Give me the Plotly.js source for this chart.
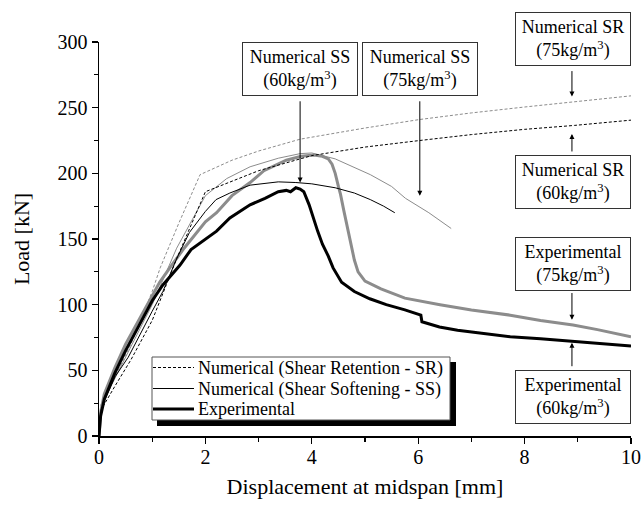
<!DOCTYPE html>
<html>
<head>
<meta charset="utf-8">
<script src="https://cdn.plot.ly/plotly-3.0.1.min.js"></script>
<style>html,body{margin:0;padding:0;background:#fff;}#chart{width:643px;height:511px;}</style>
</head>
<body>
<div id="chart"></div>
<script>
// Numerical Shear Retention, 60 kg/m3
const sr60X = [0, 0.04, 0.3, 0.6, 1.0, 1.46, 2.0, 3.0, 4.0, 5.0, 6.03, 7.0, 8.0, 8.94, 10];
const sr60Y = [0, 20, 38, 58, 88, 135, 186, 202, 213.5, 220, 225, 229.5, 233.5, 236.5, 240.5];
// Numerical Shear Retention, 75 kg/m3
const sr75X = [0, 0.04, 0.3, 0.6, 1.0, 1.15, 1.5, 1.9, 2.5, 3.0, 3.78, 5.0, 6.03, 7.0, 8.0, 8.94, 10];
const sr75Y = [0, 24, 45, 70, 110, 128, 162, 199, 210, 217, 226, 234.5, 241, 246, 250.5, 254.5, 259];
// Numerical Shear Softening, 60 kg/m3
const ss60X = [0, 0.03, 0.1, 0.3, 0.55, 0.8, 1.0, 1.2, 1.46, 1.7, 2.0, 2.2, 2.46, 2.84, 3.37, 3.7, 4.0, 4.44, 4.8, 5.1, 5.35, 5.56];
const ss60Y = [0, 16, 27, 45, 60, 80, 95, 110, 135, 155, 171, 180, 185, 191, 193.5, 193, 192, 189, 185, 180, 175, 170];
// Numerical Shear Softening, 75 kg/m3
const ss75X = [0, 0.04, 0.3, 0.6, 1.0, 1.46, 2.0, 2.4, 2.84, 3.37, 3.78, 4.0, 4.44, 5.1, 5.5, 5.76, 6.2, 6.62];
const ss75Y = [0, 22, 44, 68, 100, 143, 183, 196, 205, 211.5, 215, 215.5, 211, 199, 190, 181, 170, 158];
// Experimental, 60 kg/m3
const exp60X = [0, 0.03, 0.1, 0.3, 0.5, 0.8, 1.0, 1.2, 1.52, 1.73, 2.0, 2.21, 2.46, 2.84, 3.12, 3.37, 3.52, 3.6, 3.7, 3.78, 3.85, 3.95, 4.11, 4.2, 4.31, 4.4, 4.56, 4.8, 5.09, 5.4, 5.75, 6.05, 6.07, 6.4, 6.74, 7.2, 7.73, 8.3, 8.91, 9.5, 10];
const exp60Y = [0, 15, 28, 48, 65, 88, 103, 115, 130, 142, 150, 156, 166, 176, 181, 186, 187, 186, 189, 188, 186, 176, 156, 146, 137, 128, 117, 110, 104.5, 100, 96, 92, 87, 83, 80.5, 78, 75.5, 74, 72, 70, 68.5];
// Experimental, 75 kg/m3
const exp75X = [0, 0.03, 0.1, 0.3, 0.5, 0.8, 1.0, 1.14, 1.33, 1.6, 2.0, 2.21, 2.5, 2.84, 3.1, 3.37, 3.52, 3.8, 4.04, 4.2, 4.31, 4.38, 4.44, 4.5, 4.54, 4.6, 4.67, 4.75, 4.8, 4.87, 4.94, 5.0, 5.3, 5.75, 6.41, 7.0, 7.73, 8.3, 8.91, 9.37, 10];
const exp75Y = [0, 18, 32, 52, 70, 92, 107, 117, 128, 143, 163, 170, 183, 193, 202, 207, 210, 213, 214, 213, 211, 207, 200, 190, 184, 172, 159, 145, 134, 125, 121, 118, 112, 105, 100, 96, 92, 88, 84.5, 81, 75.5];

const legendNames = ["Numerical (Shear Retention - SR)", "Numerical (Shear Softening - SS)", "Experimental"];
const xTicks = [0, 2, 4, 6, 8, 10];
const yTicks = [0, 50, 100, 150, 200, 250, 300];

const FONT = "Liberation Serif, Times New Roman, serif";

const legendStyle = i => [
  {color: "#000000", width: 1, dash: "3px,2px"},
  {color: "#000000", width: 1, dash: "solid"},
  {color: "#000000", width: 3, dash: "solid"}
][i];

const traces = [
  {x: sr75X, y: sr75Y, mode: "lines", line: {color: "#8c8c8c", width: 1, dash: "3px,2px"}, showlegend: false, hoverinfo: "skip"},
  {x: ss75X, y: ss75Y, mode: "lines", line: {color: "#8c8c8c", width: 1}, showlegend: false, hoverinfo: "skip"},
  {x: exp75X, y: exp75Y, mode: "lines", line: {color: "#8c8c8c", width: 3}, showlegend: false, hoverinfo: "skip"},
  {x: sr60X, y: sr60Y, mode: "lines", name: legendNames[0], line: legendStyle(0), showlegend: false},
  {x: ss60X, y: ss60Y, mode: "lines", name: legendNames[1], line: legendStyle(1), showlegend: false},
  {x: exp60X, y: exp60Y, mode: "lines", name: legendNames[2], line: legendStyle(2), showlegend: false}
];

function box(text, x, y, yref) {
  return {text: text, x: x, y: y, xref: "x", yref: yref || "y", xanchor: "center", yanchor: "middle", showarrow: false,
    font: {family: FONT, size: 18, color: "#000"}, bgcolor: "#fff",
    bordercolor: "#333", borderwidth: 1, borderpad: 2, width: 110, height: 48, align: "center"};
}
function arrow(x, yTail, yTip) {
  return {text: "", x: x, y: yTip, ax: x, ay: yTail, xref: "x", yref: "y", axref: "x", ayref: "y",
    showarrow: true, arrowhead: 2, arrowsize: 1, arrowwidth: 1, arrowcolor: "#000", standoff: 0, startstandoff: 0};
}

// plot-area pixel -> paper helpers (plot area: x 99..631, y 42..436)
const px = v => (v - 99) / 532;
const py = v => (436 - v) / 394;

const annotations = [
  box("Numerical SS<br>(60kg/m<sup>3</sup>)", 3.78, 279.5),
  box("Numerical SS<br>(75kg/m<sup>3</sup>)", 6.04, 279.5),
  box("Numerical SR<br>(75kg/m<sup>3</sup>)", 8.91, py(39), "paper"),
  box("Numerical SR<br>(60kg/m<sup>3</sup>)", 8.91, 193.7),
  box("Experimental<br>(75kg/m<sup>3</sup>)", 8.91, 131),
  box("Experimental<br>(60kg/m<sup>3</sup>)", 8.91, 30),
  arrow(3.78, 256, 193),
  arrow(6.03, 256, 183),
  arrow(8.89, 279, 258.5),
  arrow(8.89, 215.5, 230),
  arrow(8.89, 110, 88.5),
  arrow(8.89, 52, 71)
];

const legendRows = [367.5, 388.5, 409];
const shapes = [
  {type: "rect", xref: "paper", yref: "paper", x0: px(157), x1: px(456), y0: py(426), y1: py(362),
   fillcolor: "#000", line: {width: 0}, layer: "above"},
  {type: "rect", xref: "paper", yref: "paper", x0: px(152), x1: px(450), y0: py(420), y1: py(357),
   fillcolor: "#fff", line: {color: "#555", width: 1}, layer: "above"}
];
legendNames.forEach((name, i) => {
  shapes.push({type: "line", xref: "paper", yref: "paper", x0: px(153), x1: px(194), y0: py(legendRows[i]), y1: py(legendRows[i]),
    line: legendStyle(i), layer: "above"});
  annotations.push({text: name, x: px(196), y: py(Math.round(legendRows[i])), xref: "paper", yref: "paper", xanchor: "left", yanchor: "middle",
    showarrow: false, font: {family: FONT, size: 18, color: "#000"}});
});

const layout = {
  width: 643, height: 511,
  margin: {l: 99, r: 12, t: 42, b: 75, pad: 0},
  paper_bgcolor: "#fff", plot_bgcolor: "#fff",
  font: {family: FONT, color: "#000"},
  showlegend: false,
  xaxis: {range: [0, 10], tickvals: xTicks, ticktext: xTicks.map(String), ticks: "outside", ticklen: 6, tickwidth: 1.2,
    tickcolor: "#000", showline: true, linecolor: "#000", linewidth: 1.5, showgrid: false, zeroline: false,
    ticklabelstandoff: -4,
    tickfont: {family: FONT, size: 20}, minor: {dtick: 1, ticks: "outside", ticklen: 4, tickcolor: "#000", tickwidth: 1.2, showgrid: false},
    title: {text: "Displacement at midspan [mm]", font: {family: FONT, size: 22}, standoff: 12}},
  yaxis: {range: [0, 300], tickvals: yTicks, ticktext: yTicks.map(String), ticks: "outside", ticklen: 6, tickwidth: 1.2,
    tickcolor: "#000", showline: true, linecolor: "#000", linewidth: 1.5, showgrid: false, zeroline: false,
    tickfont: {family: FONT, size: 20}, minor: {dtick: 25, ticks: "outside", ticklen: 4, tickcolor: "#000", tickwidth: 1.2, showgrid: false},
    title: {text: "Load [kN]", font: {family: FONT, size: 22}, standoff: 22}},
  annotations: annotations,
  shapes: shapes
};

Plotly.newPlot("chart", traces, layout, {displayModeBar: false, staticPlot: true});
</script>
</body>
</html>
